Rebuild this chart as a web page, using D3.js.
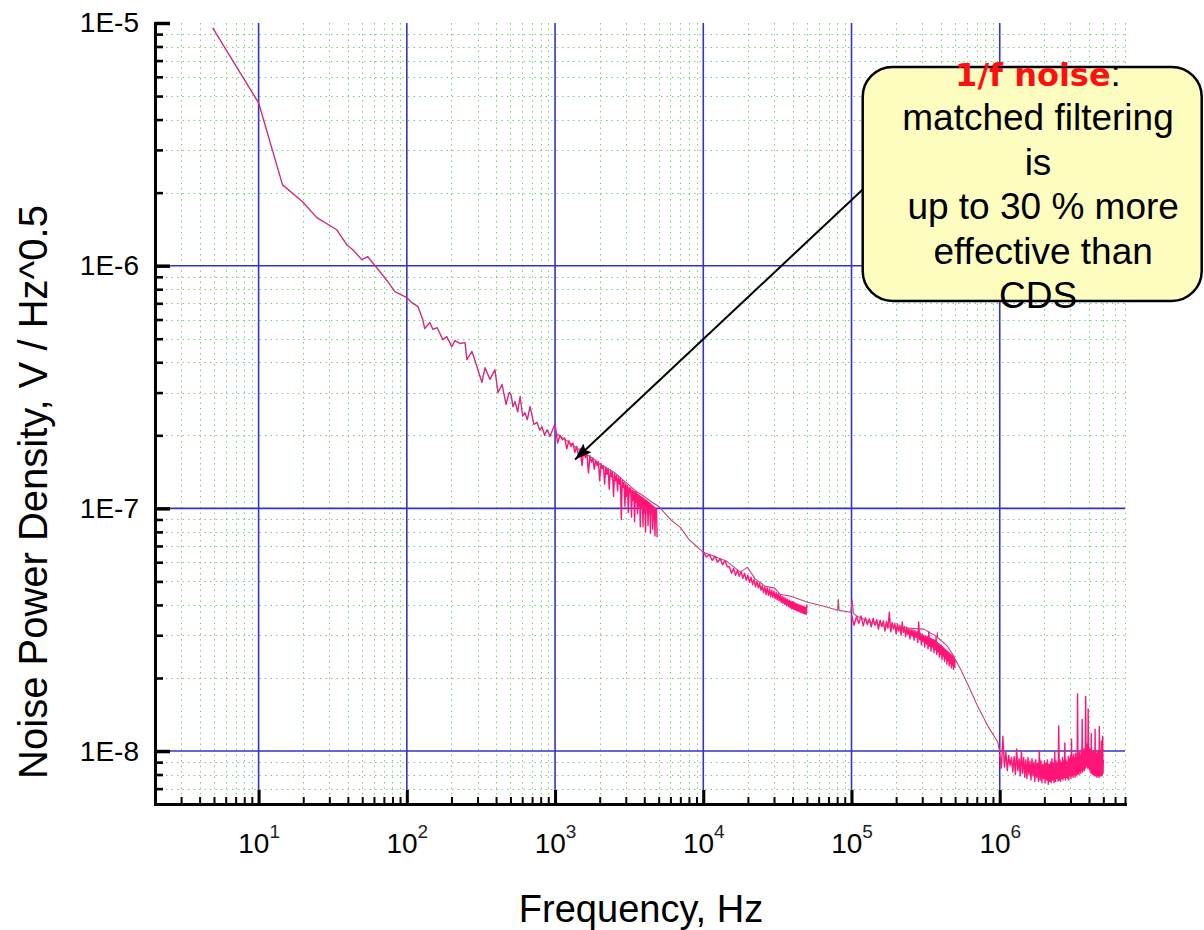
<!DOCTYPE html>
<html><head><meta charset="utf-8">
<script src="https://cdn.jsdelivr.net/npm/d3@7"></script>
<style>
html,body{margin:0;padding:0;background:#fff;}
svg{display:block;}
text{font-family:"Liberation Sans",Arial,sans-serif;fill:#000;}
</style></head><body>
<svg id="chart" width="1204" height="930"></svg>
<script>
// ---------------- data ----------------
// values in nV/sqrt(Hz)
// low-frequency spectrum: [Hz, nV]
const lowSpectrumHz = [[4.9,9540],[10,4690],[14.5,2153],[19.8,1833],[24.7,1578],[33.7,1406],[39.3,1220],[43.2,1164],[49.7,1059],[54.5,1089],[62.7,981],[74.4,859],[83,782],[100,738],[108,704],[119,678],[128,600],[132,551],[143,583],[150,546],[160,556],[175,496],[186,510],[201,464],[211,491],[228,478],[247,482],[254,410],[275,443],[297,384],[321,330],[337,380],[364,340],[393,373],[412,300],[439,324],[467,268],[490,300],[505,294],[520,262],[537,275],[560,250],[581,289],[605,240],[627,248],[650,232],[678,263],[720,222],[755,226],[790,210],[817,217],[850,200],[883,211],[925,198],[960,210],[1000,223]];

// upper smooth trace: [Hz, nV]
const upperTraceHz = [[1000,205],[1200,190],[1500,172],[1800,161],[2000,152],[2500,141],[3000,128],[3500,118],[4000,112],[4500,106],[5000,102],[6000,90],[7000,83.5],[8000,74.5],[9000,69.8],[10000,65.9],[12400,62.8],[14400,60.5],[17800,54.6],[19800,57.1],[22400,51.2],[26300,47.7],[30300,46.9],[32900,44.3],[38900,43.4],[50600,41.0],[64300,39.6],[80700,38.0],[81500,42.2],[82500,38.0],[99000,37.3],[101000,42],[103000,37],[109000,35.9],[133000,34.0],[170000,32.6],[220000,32.2],[307000,31.8],[378000,29.6],[380000,30.8],[382000,29.3],[440000,27.2],[489000,24.6],[545000,21.7],[617000,18.5],[710000,15.3],[830000,12.7],[969000,10.9],[1000000,9.9]];

// noisy spectra, equally spaced frequency bins: first bin (Hz), bin width (Hz), values (nV)
const band1Start = 1000, band1Step = 40;
const band1Values = [223,186,200,192,195,176,190,180,186,170, 180,165,176,150,172,162,168,140,165,155, 161,145,158,150,156,130,153,146,150,126, 148,138,146,120,144,135,141,112,139,130, 137,118,135,126,133,90,131,122,128,102, 126,112,124,96,122,116,121,92,119,108, 118,88,117,106,116,95,114,102,113,84, 112,100,111,84,110,96,109,80,108,99, 107,85,106,95,105,79,104,97,103,82, 102,90,101,77,100,94,99,76];

const band2Start = 10000, band2Step = 500;
const band2Values = [66,63,64.5,61,63.5,60,62,58.5,61,57.5, 57.5,54,56.5,53,55.5,52.5,55,51.5,54,50.5, 53,49.5,52,48.5,51,47.5,50,47,49,46, 48,45,47.5,44.2,47,43.8,46.5,43.2,46,43, 45.5,42.5,45,42,44.5,41.6,44,41,43.5,40.6, 43,40.2,42.6,39.8,42.2,39.4,41.8,39,41.5,38.6, 41.2,38.4,41,38.2,40.6,37.9,40.4,37.7,40.1,37.5, 39.9,37.3,39.7,37.1,39.5,36.9,39.3,36.7,39.1,36.6, 40.2];

const band3Start = 100000, band3Step = 4000;
const band3Values = [36.5,33.0,35.8,33.6,36.0,32.8,35.4,33.2,35.0,32.5, 35.2,33.0,34.8,31.8,34.6,32.6,34.4,31.2,34.2,32.0, 37.3,31.0,33.8,31.8,33.6,30.4,33.4,31.2,33.0,30.0, 34.0,30.8,32.6,29.6,32.4,30.2,32.0,29.0,31.8,29.8, 31.6,28.6,31.4,29.4,31.0,28.0,34.0,28.8,30.6,27.4, 30.3,28.2,30.0,26.8,29.8,27.6,29.6,26.4,31.0,27.0, 29.2,25.8,29.0,26.8,28.8,25.4,28.6,26.2,29.6,25.0, 28.0,25.6,27.7,24.4,27.4,25.0,27.2,23.8,26.9,24.6, 26.6,23.4,26.3,24.0,26.0,22.8,25.8,23.6,25.5,22.4, 25.3,23.0,25.0,22.0,24.8,22.6,24.6,21.7,24.4,22.2, 23.8];

const band4Start = 1000000, band4Step = 25000;
const band4Values = [9.7,8.5,11.5,8.6,9.9,8.3,9.6,8.7,9.4,8.2, 9.5,8.0,10.2,8.3,9.3,7.9,10.0,8.1,9.4,7.8, 9.2,7.7,9.4,8.0,9.1,7.6,9.3,7.9,9.0,7.5, 9.2,7.8,8.9,7.5,10.0,7.6,9.1,7.4,8.8,7.7, 9.1,7.4,8.9,7.6,9.2,7.3,8.8,7.5,9.0,7.4, 9.3,7.6,8.9,7.4,9.9,7.5,9.1,7.7,8.9,7.5, 12.7,7.6,9.2,7.5,9.0,7.7,9.4,7.6,9.1,7.8, 10.8,7.6,9.2,7.8,9.0,7.7,9.5,7.6,9.3,7.9, 9.6,7.7,11.2,7.9,9.4,7.8,9.7,8.0,9.3,7.8, 9.8,8.0,9.5,7.9,17.2,8.1,9.7,8.0,9.9,8.2, 9.6,8.1,10.1,8.3,13.5,8.2,9.9,8.4,10.2,8.3, 10.0,8.5,16.8,8.6,10.5,8.7,10.7,8.5,14.9,8.6, 10.4,8.4,10.2,8.3,10.0,8.1,11.8,8.2,9.9,8.0, 9.8,8.1,10.0,7.9,9.7,8.0,12.3,7.9,9.8,8.0, 9.6,7.8,9.9,8.0,9.7,7.9,10.1,7.8,12.6,8.0, 9.8,7.9,10.0,8.1,11.0,7.9,9.7,8.0,11.5,8.1, 9.2];

const xTickExponents = ["1","2","3","4","5","6"];
const yTickLabels = ["1E-5","1E-6","1E-7","1E-8"];
const xTitle = "Frequency, Hz";
const yTitle = "Noise Power Density, V / Hz^0.5";
const calloutHead = "1/f noise";
const calloutLines = ["matched filtering","is"," up to 30 % more"," effective than","CDS"];
// annotation anchors (Hz, nV)
const arrowTip = [1365, 159];
const arrowTail = [1.19e5, 2060];
const boxAnchor = [1.19e5, 6590];

// ---------------- chart ----------------
const NV = 1e-9;
const svg = d3.select("#chart");
const L = 155, R = 1125, T = 23, B = 804;
const x = d3.scaleLog().domain([2, 7e6]).range([L, R]);
const y = d3.scaleLog().domain([6.05e-9, 1e-5]).range([B, T]);

const xMajor = xTickExponents.map(e => Math.pow(10, +e));
const yMajor = [1e-5, 1e-6, 1e-7, 1e-8];
const xMinor = [], yMinor = [];
for (let e = 0; e <= 6; e++) for (let k = 2; k <= 9; k++) {
  const v = k * Math.pow(10, e);
  if (v > 2 && v <= 7e6) xMinor.push(v);
}
for (let e = -9; e <= -6; e++) for (let k = 2; k <= 9; k++) {
  const v = +(k + "e" + e);
  if (v >= 6.05e-9 && v < 1e-5) yMinor.push(v);
}
const px = v => Math.round(v) + 0.5;

// grid
const grid = svg.append("g");
const minorGreen = "#5ccc5c";
grid.selectAll(null).data(xMinor).join("line")
  .attr("x1", d => px(x(d))).attr("x2", d => px(x(d))).attr("y1", T).attr("y2", B)
  .attr("stroke", minorGreen).attr("stroke-width", 1).attr("stroke-dasharray", "1.5,4").attr("stroke-opacity", 0.85);
grid.selectAll(null).data(yMinor).join("line")
  .attr("y1", d => px(y(d))).attr("y2", d => px(y(d))).attr("x1", L).attr("x2", R)
  .attr("stroke", minorGreen).attr("stroke-width", 1).attr("stroke-dasharray", "1.5,4").attr("stroke-opacity", 0.85);
grid.selectAll(null).data(xMajor).join("line")
  .attr("x1", d => x(d)).attr("x2", d => x(d)).attr("y1", T).attr("y2", B)
  .attr("stroke", "#3434c4").attr("stroke-width", 1.6);
grid.selectAll(null).data(yMajor.slice(1)).join("line")
  .attr("y1", d => y(d)).attr("y2", d => y(d)).attr("x1", L).attr("x2", R)
  .attr("stroke", "#3434c4").attr("stroke-width", 1.6);

// curves
const pairLine = d3.line().x(d => x(d[0])).y(d => y(d[1] * NV));
const binLine = (start, step) => d3.line().x((d, i) => x(start + i * step)).y(d => y(d * NV));
const curves = svg.append("g").attr("fill", "none").attr("stroke-linejoin", "round");
curves.append("path").datum(lowSpectrumHz).attr("d", pairLine).attr("stroke", "#d02c80").attr("stroke-width", 1.4);
const noisy = "#ff1478";
curves.append("path").datum(band2Values).attr("d", binLine(band2Start, band2Step)).attr("stroke", noisy).attr("stroke-width", 1.4);
curves.append("path").datum(band3Values).attr("d", binLine(band3Start, band3Step)).attr("stroke", noisy).attr("stroke-width", 1.4);
curves.append("path").datum(band1Values).attr("d", binLine(band1Start, band1Step)).attr("stroke", noisy).attr("stroke-width", 1.4);
curves.append("path").datum(band4Values).attr("d", binLine(band4Start, band4Step)).attr("stroke", noisy).attr("stroke-width", 1.4);
curves.append("path").datum(upperTraceHz).attr("d", pairLine).attr("stroke", "#c8407f").attr("stroke-width", 1.1);

// axes
const gxMinor = svg.append("g").attr("transform", `translate(0,${B})`)
  .call(d3.axisBottom(x).tickValues(xMinor).tickSize(-7).tickSizeOuter(0).tickFormat(""));
gxMinor.select(".domain").remove();
gxMinor.selectAll(".tick line").attr("stroke", "#000").attr("stroke-width", 2);

const gx = svg.append("g").attr("transform", `translate(0,${B})`)
  .call(d3.axisBottom(x).tickValues(xMajor).tickSize(-14).tickSizeOuter(0).tickFormat(""));
gx.select(".domain").attr("stroke", "#000").attr("stroke-width", 3).attr("stroke-linecap", "square");
gx.selectAll(".tick line").attr("stroke", "#000").attr("stroke-width", 3);
gx.selectAll(".tick text").each(function (d, i) {
  const t = d3.select(this);
  t.attr("y", 49).attr("dy", null).attr("font-size", 28).attr("text-anchor", "middle")
   .style("font-family", '"Liberation Sans",Arial,sans-serif').attr("fill", "#000");
  t.text(null);
  t.append("tspan").text("10");
  t.append("tspan").attr("font-size", 19).attr("dy", -15).attr("fill", "#222").text(xTickExponents[i]);
});

const gyMinor = svg.append("g").attr("transform", `translate(${L},0)`)
  .call(d3.axisLeft(y).tickValues(yMinor).tickSize(-8).tickSizeOuter(0).tickFormat(""));
gyMinor.select(".domain").remove();
gyMinor.selectAll(".tick line").attr("stroke", "#000").attr("stroke-width", 2.6);

const gy = svg.append("g").attr("transform", `translate(${L},0)`)
  .call(d3.axisLeft(y).tickValues(yMajor).tickSize(-15).tickSizeOuter(0).tickPadding(16)
    .tickFormat((d, i) => yTickLabels[i]));
gy.select(".domain").attr("stroke", "#000").attr("stroke-width", 3).attr("stroke-linecap", "square");
gy.selectAll(".tick line").attr("stroke", "#000").attr("stroke-width", 3.5);
gy.selectAll(".tick text").attr("font-size", 28).attr("fill", "#000")
  .style("font-family", '"Liberation Sans",Arial,sans-serif');

// titles
svg.append("text").attr("x", 641).attr("y", 922).attr("text-anchor", "middle")
  .attr("font-size", 38).text(xTitle);
svg.append("text").attr("transform", "translate(47,492) rotate(-90)").attr("text-anchor", "middle")
  .attr("font-size", 40).text(yTitle);

// arrow
const defs = svg.append("defs");
defs.append("marker").attr("id", "ah").attr("markerUnits", "userSpaceOnUse")
  .attr("markerWidth", 18).attr("markerHeight", 12).attr("refX", 17).attr("refY", 6).attr("orient", "auto")
  .append("path").attr("d", "M0,0 L17,6 L0,12 L3,6 z").attr("fill", "#000");
svg.append("line")
  .attr("x1", x(arrowTail[0])).attr("y1", y(arrowTail[1] * NV))
  .attr("x2", x(arrowTip[0])).attr("y2", y(arrowTip[1] * NV))
  .attr("stroke", "#000").attr("stroke-width", 2).attr("marker-end", "url(#ah)");

// callout
const bx = x(boxAnchor[0]), by = y(boxAnchor[1] * NV);
svg.append("rect").attr("x", bx).attr("y", by).attr("width", 339).attr("height", 234)
  .attr("rx", 30).attr("ry", 30).attr("fill", "#fdfdbf").attr("stroke", "#000").attr("stroke-width", 2.5);
const cx = 1038;
const head = svg.append("text").attr("x", cx).attr("y", 86).attr("text-anchor", "middle").style("white-space", "pre");
head.append("tspan").text(calloutHead).attr("fill", "#ff1010").attr("font-weight", "bold")
  .attr("font-size", 32).style("font-family", '"Comic Sans MS","DejaVu Sans",sans-serif');
head.append("tspan").text(":").attr("font-size", 37);
svg.append("g").selectAll("text").data(calloutLines).join("text")
  .attr("x", cx).attr("y", (d, i) => 130 + i * 44.5).attr("text-anchor", "middle")
  .attr("font-size", 37).style("white-space", "pre").text(d => d);
</script>
</body></html>
